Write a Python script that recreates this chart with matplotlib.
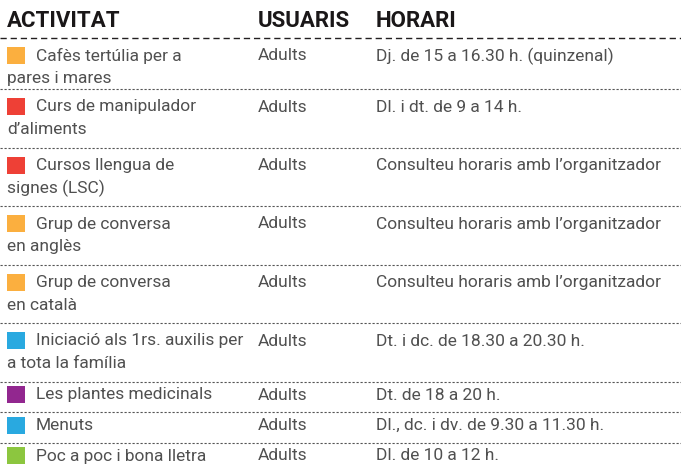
import matplotlib.pyplot as plt
from matplotlib.patches import Rectangle

# table contents
activitats = [
    "Cafès tertúlia per a\npares i mares",
    "Curs de manipulador\nd’aliments",
    "Cursos llengua de\nsignes (LSC)",
    "Grup de conversa\nen anglès",
    "Grup de conversa\nen català",
    "Iniciació als 1rs. auxilis per\na tota la família",
    "Les plantes medicinals",
    "Menuts",
    "Poc a poc i bona lletra",
]
usuaris = ["Adults", "Adults", "Adults", "Adults", "Adults",
           "Adults", "Adults", "Adults", "Adults"]
horaris = [
    "Dj. de 15 a 16.30 h. (quinzenal)",
    "Dl. i dt. de 9 a 14 h.",
    "Consulteu horaris amb l’organitzador",
    "Consulteu horaris amb l’organitzador",
    "Consulteu horaris amb l’organitzador",
    "Dt. i dc. de 18.30 a 20.30 h.",
    "Dt. de 18 a 20 h.",
    "Dl., dc. i dv. de 9.30 a 11.30 h.",
    "Dl. de 10 a 12 h.",
]
colors = ["#FBAF3F", "#EE4036", "#EE4036", "#FBAF3F", "#FBAF3F",
          "#29A9E0", "#92278F", "#29A9E0", "#8CC63F"]
headers = ["ACTIVITAT", "USUARIS", "HORARI"]

plt.rcParams['font.family'] = ['Roboto', 'DejaVu Sans']

W, H = 681, 467
fig = plt.figure(figsize=(W / 100, H / 100), dpi=100)
ax = fig.add_axes([0, 0, 1, 1])
ax.set_xlim(0, W)
ax.set_ylim(H, 0)
ax.axis('off')

col_x = [7, 258, 376]
txt_col = "#505050"
fs = 12.5

for x, h in zip(col_x, headers):
    ax.text(x, 21, h, fontsize=16, fontweight='bold', color="#1a1718",
            va='center', ha='left')
ax.plot([0, W], [38, 38], color="#231f20", lw=1.0, dashes=(4.5, 2.8))

y = 38
line_h = 22.5
for k, (act, usr, hor, c) in enumerate(zip(activitats, usuaris, horaris, colors)):
    lines = act.split("\n")
    two = len(lines) > 1
    row_h = 58.5 if two else 30.5
    if k == 0:
        row_h -= 7.5
    yc = y + (18 if two else 13.5)
    ax.add_patch(Rectangle((7, yc - 9), 18, 17, color=c, lw=0))
    ax.text(36, yc, lines[0], fontsize=fs, color=txt_col, va='center')
    for i, l in enumerate(lines[1:]):
        ax.text(7, yc + line_h * (i + 1), l, fontsize=fs, color=txt_col, va='center')
    ax.text(col_x[1], yc, usr, fontsize=fs, color=txt_col, va='center')
    ax.text(col_x[2], yc, hor, fontsize=fs, color=txt_col, va='center')
    y += row_h
    if y < H - 10:
        ax.plot([0, W], [y, y], color="#555555", lw=0.8, dashes=(2, 1.6))

fig.savefig("out.png", dpi=100)
